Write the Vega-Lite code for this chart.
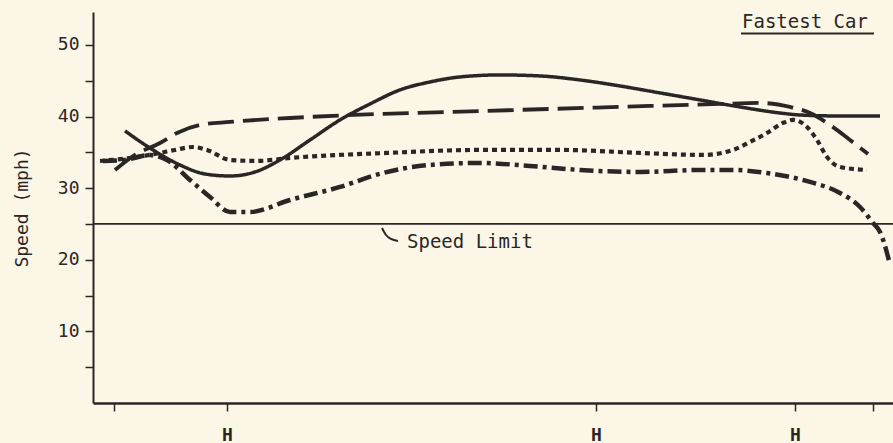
{
  "$schema": "https://vega.github.io/schema/vega-lite/v6.json",
  "autosize": {"type": "none"},
  "width": 800,
  "height": 391,
  "padding": {"left": 93, "top": 12, "right": 0, "bottom": 40},
  "background": "#fcf6e7",
  "config": {
    "view": {"stroke": null},
    "font": "DejaVu Sans Mono",
    "axis": {"grid": false, "domainColor": "#2b2626", "tickColor": "#2b2626", "labelColor": "#2b2626", "titleColor": "#2b2626", "labelFont": "DejaVu Sans Mono", "titleFont": "DejaVu Sans Mono"}
  },
  "datasets": {
    "curves": [
      {"series": "solid", "x": 32, "y": 37.99},
      {"series": "solid", "x": 60, "y": 35.34},
      {"series": "solid", "x": 87, "y": 33.24},
      {"series": "solid", "x": 112, "y": 31.98},
      {"series": "solid", "x": 137, "y": 31.7},
      {"series": "solid", "x": 162, "y": 32.26},
      {"series": "solid", "x": 187, "y": 33.94},
      {"series": "solid", "x": 217, "y": 36.73},
      {"series": "solid", "x": 247, "y": 39.53},
      {"series": "solid", "x": 277, "y": 41.76},
      {"series": "solid", "x": 307, "y": 43.72},
      {"series": "solid", "x": 337, "y": 44.83},
      {"series": "solid", "x": 367, "y": 45.53},
      {"series": "solid", "x": 407, "y": 45.81},
      {"series": "solid", "x": 447, "y": 45.67},
      {"series": "solid", "x": 487, "y": 45.11},
      {"series": "solid", "x": 527, "y": 44.27},
      {"series": "solid", "x": 567, "y": 43.3},
      {"series": "solid", "x": 607, "y": 42.32},
      {"series": "solid", "x": 647, "y": 41.34},
      {"series": "solid", "x": 687, "y": 40.5},
      {"series": "solid", "x": 707, "y": 40.22},
      {"series": "solid", "x": 747, "y": 40.08},
      {"series": "solid", "x": 787, "y": 40.08},
      {"series": "dashed", "x": 22, "y": 32.54},
      {"series": "dashed", "x": 42, "y": 34.64},
      {"series": "dashed", "x": 67, "y": 36.31},
      {"series": "dashed", "x": 84, "y": 37.71},
      {"series": "dashed", "x": 107, "y": 38.83},
      {"series": "dashed", "x": 137, "y": 39.25},
      {"series": "dashed", "x": 197, "y": 39.8},
      {"series": "dashed", "x": 287, "y": 40.36},
      {"series": "dashed", "x": 357, "y": 40.64},
      {"series": "dashed", "x": 457, "y": 41.06},
      {"series": "dashed", "x": 557, "y": 41.48},
      {"series": "dashed", "x": 627, "y": 41.76},
      {"series": "dashed", "x": 667, "y": 41.9},
      {"series": "dashed", "x": 697, "y": 41.34},
      {"series": "dashed", "x": 717, "y": 40.5},
      {"series": "dashed", "x": 737, "y": 38.83},
      {"series": "dashed", "x": 757, "y": 36.73},
      {"series": "dashed", "x": 775, "y": 34.78},
      {"series": "dotted", "x": 7, "y": 33.8},
      {"series": "dotted", "x": 37, "y": 34.22},
      {"series": "dotted", "x": 67, "y": 34.92},
      {"series": "dotted", "x": 82, "y": 35.34},
      {"series": "dotted", "x": 100, "y": 35.75},
      {"series": "dotted", "x": 114, "y": 35.34},
      {"series": "dotted", "x": 137, "y": 33.94},
      {"series": "dotted", "x": 164, "y": 33.8},
      {"series": "dotted", "x": 197, "y": 34.22},
      {"series": "dotted", "x": 294, "y": 34.92},
      {"series": "dotted", "x": 387, "y": 35.34},
      {"series": "dotted", "x": 467, "y": 35.34},
      {"series": "dotted", "x": 547, "y": 34.92},
      {"series": "dotted", "x": 610, "y": 34.64},
      {"series": "dotted", "x": 640, "y": 35.34},
      {"series": "dotted", "x": 657, "y": 36.45},
      {"series": "dotted", "x": 674, "y": 37.71},
      {"series": "dotted", "x": 690, "y": 39.11},
      {"series": "dotted", "x": 700, "y": 39.53},
      {"series": "dotted", "x": 714, "y": 38.55},
      {"series": "dotted", "x": 724, "y": 36.73},
      {"series": "dotted", "x": 734, "y": 34.36},
      {"series": "dotted", "x": 747, "y": 32.96},
      {"series": "dotted", "x": 774, "y": 32.54},
      {"series": "dashdot", "x": 10, "y": 33.8},
      {"series": "dashdot", "x": 32, "y": 33.94},
      {"series": "dashdot", "x": 57, "y": 34.64},
      {"series": "dashdot", "x": 74, "y": 33.94},
      {"series": "dashdot", "x": 97, "y": 31.15},
      {"series": "dashdot", "x": 117, "y": 28.77},
      {"series": "dashdot", "x": 137, "y": 26.68},
      {"series": "dashdot", "x": 157, "y": 26.68},
      {"series": "dashdot", "x": 197, "y": 28.35},
      {"series": "dashdot", "x": 247, "y": 30.17},
      {"series": "dashdot", "x": 290, "y": 32.12},
      {"series": "dashdot", "x": 337, "y": 33.24},
      {"series": "dashdot", "x": 387, "y": 33.52},
      {"series": "dashdot", "x": 437, "y": 33.1},
      {"series": "dashdot", "x": 487, "y": 32.54},
      {"series": "dashdot", "x": 547, "y": 32.26},
      {"series": "dashdot", "x": 607, "y": 32.54},
      {"series": "dashdot", "x": 640, "y": 32.54},
      {"series": "dashdot", "x": 674, "y": 32.12},
      {"series": "dashdot", "x": 717, "y": 30.87},
      {"series": "dashdot", "x": 747, "y": 29.33},
      {"series": "dashdot", "x": 767, "y": 27.37},
      {"series": "dashdot", "x": 780, "y": 25.14},
      {"series": "dashdot", "x": 787, "y": 23.88},
      {"series": "dashdot", "x": 794, "y": 20.95},
      {"series": "dashdot", "x": 797, "y": 19.27}
    ],
    "limit": [
      {"y": 25}
    ],
    "leader": [
      {"x": 289, "y": 24.44},
      {"x": 293, "y": 23.46},
      {"x": 298, "y": 22.91},
      {"x": 305, "y": 22.63}
    ],
    "labels": [
      {"x": 314, "y": 22.5, "text": "Speed Limit"},
      {"x": 649, "y": 53.2, "text": "Fastest Car"}
    ],
    "underline": [
      {"x": 648, "x2": 781, "y": 51.6}
    ]
  },
  "layer": [
    {
      "data": {"name": "limit"},
      "mark": {"type": "rule", "color": "#2b2626", "strokeWidth": 1.8},
      "encoding": {
        "y": {"field": "y", "type": "quantitative", "scale": {"domain": [0, 54.6], "nice": false}}
      }
    },
    {
      "data": {"name": "curves"},
      "mark": {"type": "line", "interpolate": "monotone", "color": "#2b2626", "strokeCap": "butt"},
      "encoding": {
        "x": {
          "field": "x", "type": "quantitative",
          "scale": {"domain": [0, 800], "nice": false, "zero": false},
          "axis": {
            "title": null,
            "values": [21, 134, 503, 702, 780],
            "labelExpr": "(datum.value == 134 || datum.value == 503 || datum.value == 702) ? 'H' : ''",
            "domainWidth": 2.5,
            "tickSize": 8,
            "tickWidth": 1.5,
            "labelPadding": 15,
            "labelFontSize": 18,
            "labelFontWeight": "bold"
          }
        },
        "y": {
          "field": "y", "type": "quantitative",
          "scale": {"domain": [0, 54.6], "nice": false},
          "axis": {
            "title": "Speed (mph)",
            "values": [5, 10, 15, 20, 25, 30, 35, 40, 45, 50],
            "labelExpr": "datum.value % 10 == 0 ? datum.label : ''",
            "domainWidth": 2,
            "tickSize": 8,
            "tickWidth": 1.5,
            "labelPadding": 6,
            "labelFontSize": 18,
            "titleFontSize": 18,
            "titleFontWeight": "normal",
            "titlePadding": 26
          }
        },
        "strokeDash": {
          "field": "series", "type": "nominal", "legend": null,
          "scale": {"domain": ["solid", "dashed", "dotted", "dashdot"], "range": [[1, 0], [26, 9], [5, 4], [14, 5, 4, 5]]}
        },
        "strokeWidth": {
          "field": "series", "type": "nominal", "legend": null,
          "scale": {"domain": ["solid", "dashed", "dotted", "dashdot"], "range": [3.5, 4.5, 5, 3]}
        }
      }
    },
    {
      "data": {"name": "leader"},
      "mark": {"type": "line", "interpolate": "monotone", "color": "#2b2626", "strokeWidth": 2},
      "encoding": {
        "x": {"field": "x", "type": "quantitative"},
        "y": {"field": "y", "type": "quantitative"}
      }
    },
    {
      "data": {"name": "labels"},
      "mark": {"type": "text", "align": "left", "baseline": "middle", "font": "DejaVu Sans Mono", "fontSize": 19, "color": "#2b2626"},
      "encoding": {
        "x": {"field": "x", "type": "quantitative"},
        "y": {"field": "y", "type": "quantitative"},
        "text": {"field": "text"}
      }
    },
    {
      "data": {"name": "underline"},
      "mark": {"type": "rule", "color": "#2b2626", "strokeWidth": 2},
      "encoding": {
        "x": {"field": "x", "type": "quantitative"},
        "x2": {"field": "x2"},
        "y": {"field": "y", "type": "quantitative"}
      }
    }
  ]
}
